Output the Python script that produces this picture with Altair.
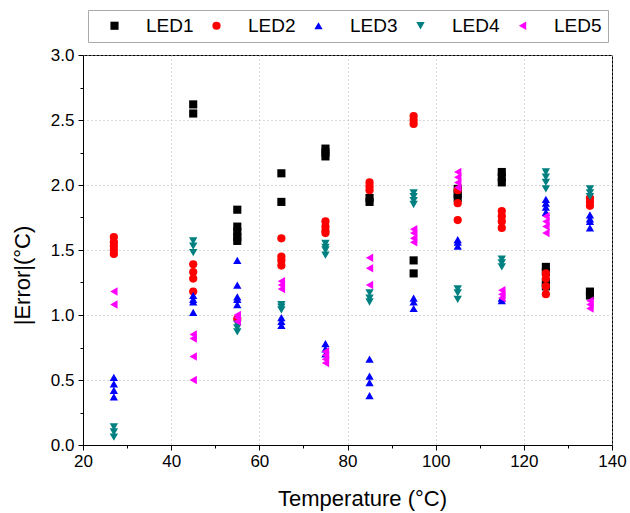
import altair as alt
import pandas as pd

temps = [27, 45, 55, 65, 75, 85, 95, 105, 115, 125, 135]
series_names = ["LED1", "LED2", "LED3", "LED4", "LED5"]
colors = ["#000000", "#ff0000", "#0000ff", "#008080", "#ff00ff"]
shapes = ["square", "circle", "triangle-up", "triangle-down", "triangle-left"]
marker_sizes = [66, 72, 125, 125, 125]

led1 = [[], [2.62, 2.55], [1.81, 1.68, 1.64, 1.60, 1.57], [2.09, 1.87], [2.28, 2.25, 2.22],
        [1.90, 1.87], [1.42, 1.32], [1.97, 1.93, 1.90], [2.10, 2.06, 2.02],
        [1.37, 1.33, 1.25, 1.22], [1.18, 1.15]]
led2 = [[1.60, 1.56, 1.53, 1.50, 1.47], [1.39, 1.33, 1.28, 1.18], [0.97], [1.59, 1.45, 1.42, 1.38],
        [1.72, 1.68, 1.65, 1.63], [2.02, 1.99, 1.96], [2.53, 2.50, 2.47], [1.96, 1.86, 1.73],
        [1.80, 1.76, 1.72, 1.67], [1.32, 1.28, 1.22, 1.16], [1.90, 1.87, 1.84]]
led3 = [[0.52, 0.47, 0.42, 0.37], [1.15, 1.12, 1.10, 1.02], [1.42, 1.23, 1.14, 1.12, 1.08],
        [0.98, 0.95, 0.92], [0.78, 0.74, 0.70], [0.66, 0.53, 0.48, 0.38], [1.13, 1.10, 1.05],
        [1.58, 1.56, 1.53], [1.13, 1.11], [1.89, 1.86, 1.83, 1.79], [1.77, 1.74, 1.72, 1.67]]
led4 = [[0.14, 0.10, 0.06], [1.57, 1.53, 1.48], [0.93, 0.90, 0.87], [1.08, 1.06, 1.04],
        [1.55, 1.52, 1.50, 1.46], [1.17, 1.13, 1.10], [1.94, 1.91, 1.88, 1.85],
        [1.20, 1.17, 1.12], [1.43, 1.40, 1.37], [2.10, 2.06, 2.02, 1.97], [1.97, 1.94, 1.91]]
led5 = [[1.18, 1.08], [0.85, 0.82, 0.68, 0.50], [1.00, 0.98, 0.95], [1.26, 1.23, 1.20],
        [0.72, 0.69, 0.66, 0.63], [1.44, 1.36, 1.23], [1.66, 1.63, 1.59, 1.56],
        [2.10, 2.06, 2.02, 1.98], [1.19, 1.16, 1.13], [1.76, 1.72, 1.68, 1.63], [1.11, 1.08, 1.05]]

x_major = [20, 40, 60, 80, 100, 120, 140]
x_minor = [30, 50, 70, 90, 110, 130]
y_major = [0.0, 0.5, 1.0, 1.5, 2.0, 2.5, 3.0]
y_minor = [0.25, 0.75, 1.25, 1.75, 2.25, 2.75]

rows = []
for name, vals in zip(series_names, [led1, led2, led3, led4, led5]):
    for t, lst in zip(temps, vals):
        for v in lst:
            rows.append({"T": t, "E": v, "LED": name})
df = pd.DataFrame(rows)

FONT = "Liberation Sans"
xscale = alt.Scale(domain=[20, 140], nice=False, zero=False)
yscale = alt.Scale(domain=[0, 3], nice=False, zero=False)

legend = alt.Legend(orient="none", legendX=5, legendY=-45,
                    direction="horizontal", title=" ", titleOrient="left",
                    titleFontSize=12, titlePadding=11, padding=6,
                    strokeColor="#aaaaaa", fillColor="white",
                    labelFont=FONT, labelFontSize=19, labelColor="black",
                    labelOffset=22, columnPadding=13, symbolSize=55,
                    symbolStrokeWidth=0)

points = alt.Chart(df).mark_point(filled=True, opacity=1, strokeWidth=0).encode(
    x=alt.X("T:Q", scale=xscale, title="Temperature (°C)",
            axis=alt.Axis(orient="bottom", values=x_major, format="d", labelFontSize=17,
                          labelFont=FONT, labelColor="black", tickColor="black", tickSize=5,
                          domainColor="black", labelPadding=3, labelFlush=False,
                          grid=True, gridDash=[1, 3], gridColor="#b0b0b0",
                          titleFont=FONT, titleFontSize=22, titleFontWeight="normal",
                          titleColor="black", titleX=279, titleY=60,
                          titleBaseline="alphabetic")),
    y=alt.Y("E:Q", scale=yscale, title="|Error|(°C)",
            axis=alt.Axis(orient="left", values=y_major, format=".1f", labelFontSize=17,
                          labelFont=FONT, labelColor="black", tickColor="black", tickSize=5,
                          domainColor="black", labelPadding=4, labelFlush=False,
                          grid=True, gridDash=[1, 3], gridColor="#b0b0b0",
                          titleFont=FONT, titleFontSize=22, titleFontWeight="normal",
                          titleColor="black", titleX=-61, titleY=220, titleAngle=-90,
                          titleBaseline="middle", titleAlign="center")),
    color=alt.Color("LED:N", scale=alt.Scale(domain=series_names, range=colors), legend=legend),
    shape=alt.Shape("LED:N", scale=alt.Scale(domain=series_names, range=shapes), legend=legend),
    size=alt.Size("LED:N", scale=alt.Scale(domain=series_names, range=marker_sizes), legend=None),
    order=alt.Order("idx:Q"),
).transform_window(idx="row_number()")

minor = alt.Chart(df).mark_point(opacity=0).encode(
    x=alt.X("T:Q", scale=xscale, title="",
            axis=alt.Axis(orient="bottom", values=x_minor, labels=False, tickSize=3,
                          tickColor="black", domain=False, grid=False)),
    y=alt.Y("E:Q", scale=yscale, title="",
            axis=alt.Axis(orient="left", values=y_minor, labels=False, tickSize=3,
                          tickColor="black", domain=False, grid=False)),
)

chart = alt.layer(points, minor).resolve_axis(x="independent", y="independent").properties(
    width=529, height=390,
    autosize=alt.AutoSizeParams(type="none"),
    padding={"left": 83, "top": 55, "right": 18, "bottom": 68},
    background="white",
).configure_view(stroke="black", strokeWidth=1)

chart.save("out.html", embed_options={"renderer": "svg", "actions": False})
